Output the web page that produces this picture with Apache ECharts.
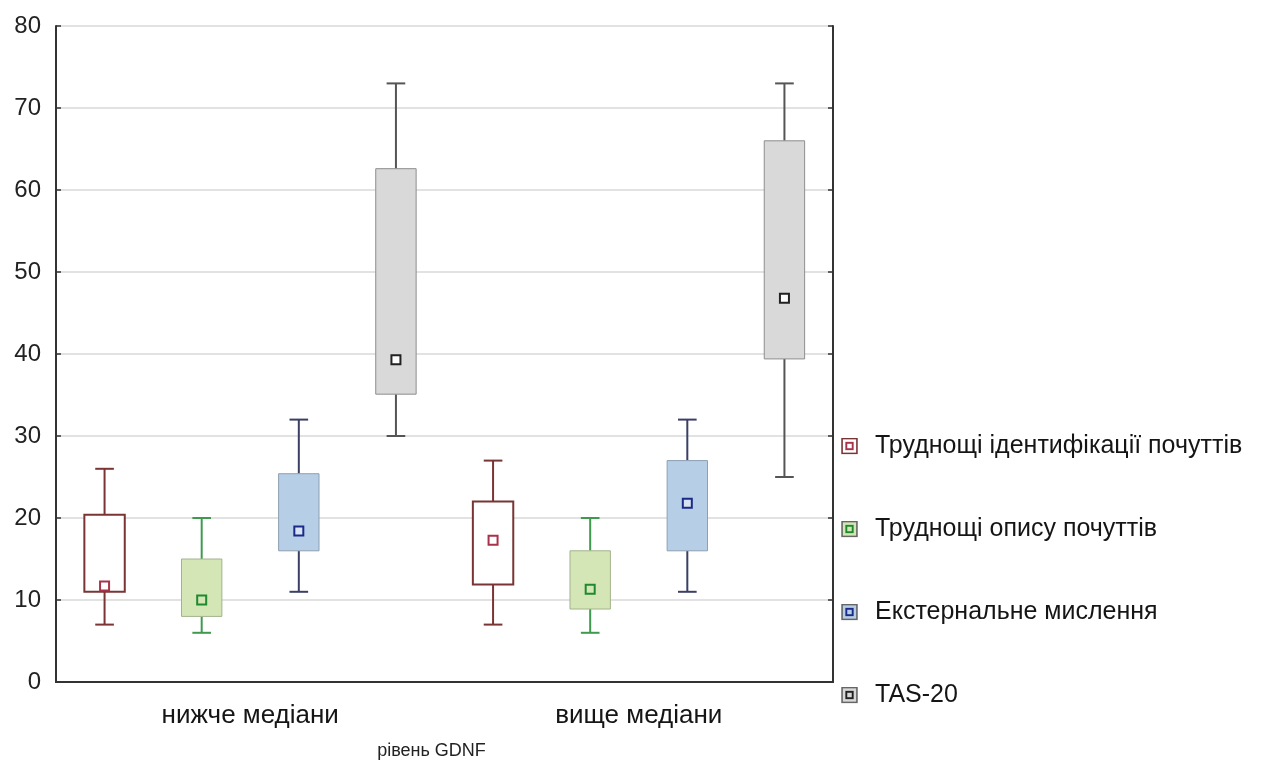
<!DOCTYPE html>
<html>
<head>
<meta charset="utf-8">
<script src="https://cdn.jsdelivr.net/npm/echarts@6/dist/echarts.min.js"></script>
<style>
  html, body { margin: 0; padding: 0; background: #fff; }
  #chart { width: 1269px; height: 765px; }
</style>
</head>
<body>
<div id="chart"></div>
<script>
// Groups by GDNF level
const categories = ['нижче медіани', 'вище медіани'];

const seriesNames = [
  'Труднощі ідентифікації почуттів',
  'Труднощі опису почуттів',
  'Екстернальне мислення',
  'TAS-20'
];

// Each entry: [lower whisker, Q1, median, Q3, upper whisker]
const identifyFeelings = [[7, 11, 11.7, 20.4, 26], [7, 11.9, 17.3, 22, 27]];
const describeFeelings = [[6, 8, 10, 15, 20], [6, 8.9, 11.3, 16, 20]];
const externalThinking = [[11, 16, 18.4, 25.4, 32], [11, 16, 21.8, 27, 32]];
const tas20 = [[30, 35.1, 39.3, 62.6, 73], [25, 39.4, 46.8, 66, 73]];

const yMin = 0, yMax = 80, yStep = 10;

const styles = [
  { fill: '#ffffff', border: '#7a3434', borderW: 2, whisker: '#7a3434', marker: '#a8324a', markerFill: '#ffffff' },
  { fill: '#d5e6b6', border: '#a3b28e', borderW: 1, whisker: '#3f9a50', marker: '#1e8a2e', markerFill: '#d5e6b6' },
  { fill: '#b7cfe6', border: '#8d9fb3', borderW: 1, whisker: '#3b3f66', marker: '#1b2a8a', markerFill: '#d6e4f2' },
  { fill: '#d9d9d9', border: '#8e8e8e', borderW: 1, whisker: '#555555', marker: '#222222', markerFill: '#ffffff' }
];

const allSeries = [identifyFeelings, describeFeelings, externalThinking, tas20];

// Box with whiskers, end caps and a square median marker
function makeRender(slot, st) {
  return function (params, api) {
    const cat = api.value(0);
    const band = api.size([1, 0])[0];
    const cx = api.coord([cat, 0])[0] + (slot - 1.5) * band * 0.25;
    const yLo = api.coord([cat, api.value(1)])[1];
    const yQ1 = api.coord([cat, api.value(2)])[1];
    const yMed = api.coord([cat, api.value(3)])[1];
    const yQ3 = api.coord([cat, api.value(4)])[1];
    const yHi = api.coord([cat, api.value(5)])[1];
    const bw = band * 0.104;
    const cap = band * 0.048;
    const m = 9;
    const lineStyle = { stroke: st.whisker, lineWidth: 2 };
    return {
      type: 'group',
      children: [
        { type: 'line', shape: { x1: cx, y1: yQ3, x2: cx, y2: yHi }, style: lineStyle },
        { type: 'line', shape: { x1: cx, y1: yLo, x2: cx, y2: yQ1 }, style: lineStyle },
        { type: 'line', shape: { x1: cx - cap / 2, y1: yHi, x2: cx + cap / 2, y2: yHi }, style: lineStyle },
        { type: 'line', shape: { x1: cx - cap / 2, y1: yLo, x2: cx + cap / 2, y2: yLo }, style: lineStyle },
        { type: 'rect', shape: { x: cx - bw / 2, y: yQ3, width: bw, height: yQ1 - yQ3 },
          style: { fill: st.fill, stroke: st.border, lineWidth: st.borderW } },
        { type: 'rect', shape: { x: cx - m / 2, y: yMed - m / 2, width: m, height: m },
          style: { fill: st.markerFill, stroke: st.marker, lineWidth: 2 } }
      ]
    };
  };
}

function legendIcon(st) {
  const svg = '<svg xmlns="http://www.w3.org/2000/svg" width="16" height="16">' +
    '<rect x="1" y="1" width="14" height="14" fill="' + st.fill + '" stroke="' + (st.borderW > 1 ? st.border : '#666') + '" stroke-width="1.5"/>' +
    '<rect x="5" y="5" width="6" height="6" fill="none" stroke="' + st.marker + '" stroke-width="1.8"/></svg>';
  return 'image://data:image/svg+xml;charset=utf-8,' + encodeURIComponent(svg);
}

const series = allSeries.map(function (values, i) {
  return {
    name: seriesNames[i],
    type: 'custom',
    xAxisIndex: 0,
    yAxisIndex: 0,
    renderItem: makeRender(i, styles[i]),
    encode: { x: 0, y: [1, 2, 3, 4, 5] },
    itemStyle: { color: styles[i].fill, borderColor: styles[i].border },
    data: values.map(function (v, c) { return [c].concat(v); }),
    z: 3
  };
});

const chart = echarts.init(document.getElementById('chart'), null, { renderer: 'canvas' });
const axisColor = '#333333';
const textColor = '#151515';
const fontFamily = '"Liberation Sans", Arial, sans-serif';

chart.setOption({
  animation: false,
  textStyle: { fontFamily: fontFamily },
  grid: { left: 56, right: 436, top: 26, bottom: 82, containLabel: false },
  legend: {
    orient: 'vertical',
    left: 836,
    top: 427,
    itemWidth: 17,
    itemHeight: 17,
    itemGap: 55,
    textStyle: { fontSize: 25, color: textColor, lineHeight: 28, fontFamily: fontFamily, padding: [0, 0, 0, 12] },
    data: seriesNames.map(function (n, i) { return { name: n, icon: legendIcon(styles[i]) }; })
  },
  xAxis: [
    {
      type: 'category',
      data: categories,
      position: 'bottom',
      axisLine: { lineStyle: { color: axisColor, width: 2 } },
      axisTick: { inside: true, alignWithLabel: true, length: 4, lineStyle: { color: axisColor, width: 2 } },
      axisLabel: { fontSize: 26, color: textColor, margin: 21 },
      name: 'рівень GDNF',
      nameLocation: 'middle',
      nameGap: 60,
      nameTextStyle: { fontSize: 18, color: '#222', padding: [0, 26, 0, 0] },
      splitLine: { show: false }
    },
    {
      type: 'category',
      data: categories,
      position: 'top',
      axisLine: { lineStyle: { color: axisColor, width: 2 } },
      axisTick: { inside: true, alignWithLabel: true, length: 4, lineStyle: { color: axisColor, width: 2 } },
      axisLabel: { show: false },
      splitLine: { show: false }
    }
  ],
  yAxis: [
    {
      type: 'value',
      min: yMin, max: yMax, interval: yStep,
      position: 'left',
      axisLine: { show: true, lineStyle: { color: axisColor, width: 2 } },
      axisTick: { show: true, inside: true, length: 5, lineStyle: { color: axisColor, width: 1.5 } },
      axisLabel: { fontSize: 24, color: '#222', margin: 15 },
      splitLine: { show: true, lineStyle: { color: '#e2e2e2', width: 2 } }
    },
    {
      type: 'value',
      min: yMin, max: yMax, interval: yStep,
      position: 'right',
      axisLine: { show: true, lineStyle: { color: axisColor, width: 2 } },
      axisTick: { show: true, inside: true, length: 5, lineStyle: { color: axisColor, width: 1.5 } },
      axisLabel: { show: false },
      splitLine: { show: false }
    }
  ],
  series: series
});
</script>
</body>
</html>
